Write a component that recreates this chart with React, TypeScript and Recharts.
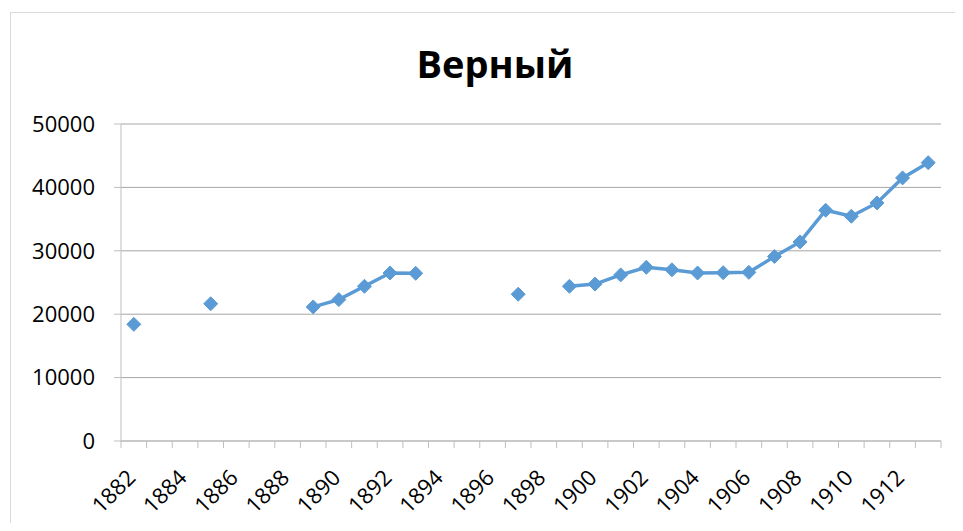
import { LineChart, Line, XAxis, YAxis, CartesianGrid } from "recharts";

const years = [
  1882, 1883, 1884, 1885, 1886, 1887, 1888, 1889, 1890, 1891, 1892, 1893, 1894, 1895, 1896, 1897,
  1898, 1899, 1900, 1901, 1902, 1903, 1904, 1905, 1906, 1907, 1908, 1909, 1910, 1911, 1912, 1913,
];

const population: (number | null)[] = [
  18400, null, null, 21650, null, null, null, 21150, 22300, 24400, 26500, 26450, null, null, null, 23150,
  null, 24400, 24750, 26200, 27400, 27000, 26500, 26550, 26600, 29100, 31400, 36400, 35450, 37550, 41500, 43900,
];

const yTicks = [0, 10000, 20000, 30000, 40000, 50000];
const labelYears = [1882, 1884, 1886, 1888, 1890, 1892, 1894, 1896, 1898, 1900, 1902, 1904, 1906, 1908, 1910, 1912];

const data = years.map((year, i) => ({ year, population: population[i] }));

// tick marks sit between categories, labels on every second year
const boundaries = [...years.map((y) => y - 0.5), years[years.length - 1] + 0.5];
const xTicks = [...boundaries, ...labelYears];

const FONT = "'Open Sans', sans-serif";
const BLUE = "#5b9bd5";
const AXIS = "#bfbfbf";

function Diamond(props: any) {
  const { cx, cy, value } = props;
  if (value == null || cx == null || cy == null) return <g />;
  const r = 7;
  return (
    <polygon
      points={`${cx},${cy - r} ${cx + r},${cy} ${cx},${cy + r} ${cx - r},${cy}`}
      fill={BLUE}
      stroke={BLUE}
    />
  );
}

function XTick(props: any) {
  const { x, y, payload } = props;
  const v = payload.value;
  if (!Number.isInteger(v)) {
    return <line x1={x} x2={x} y1={y} y2={y + 7} stroke={AXIS} />;
  }
  const tx = x + 3;
  const ty = y + 38;
  return (
    <text
      x={tx}
      y={ty}
      textAnchor="end"
      transform={`rotate(-45, ${tx}, ${ty})`}
      fontSize={22}
      fontFamily={FONT}
      fill="#000"
    >
      {v}
    </text>
  );
}

export default function App() {
  return (
    <div style={{ position: "relative", width: 947, height: 515, overflow: "hidden", background: "#fff" }}>
      <div
        style={{
          position: "absolute",
          left: 2,
          top: 4,
          width: 1000,
          height: 1000,
          border: "1px solid #d9d9d9",
        }}
      />
      <div
        style={{
          position: "absolute",
          left: 287,
          top: 36,
          width: 400,
          textAlign: "center",
          fontFamily: FONT,
          fontWeight: 700,
          fontSize: 38,
          lineHeight: "38px",
          color: "#000",
        }}
      >
        Верный
      </div>
      <div style={{ position: "absolute", left: 0, top: 0 }}>
        <LineChart width={947} height={515} data={data} margin={{ top: 116, right: 14, bottom: 0, left: 0 }}>
          <CartesianGrid vertical={false} stroke="#a6a6a6" />
          <XAxis
            dataKey="year"
            type="number"
            domain={[boundaries[0], boundaries[boundaries.length - 1]]}
            ticks={xTicks}
            interval={0}
            height={82}
            tickSize={0}
            tickMargin={0}
            tickLine={false}
            axisLine={{ stroke: AXIS }}
            tick={<XTick />}
          />
          <YAxis
            domain={[0, 50000]}
            ticks={yTicks}
            width={113}
            tickSize={7}
            tickMargin={19}
            axisLine={{ stroke: AXIS }}
            tickLine={{ stroke: AXIS }}
            tick={{ fill: "#000", fontSize: 22, fontFamily: FONT }}
          />
          <Line
            dataKey="population"
            stroke={BLUE}
            strokeWidth={3.5}
            dot={<Diamond />}
            activeDot={false}
            connectNulls={false}
            isAnimationActive={false}
          />
        </LineChart>
      </div>
    </div>
  );
}
